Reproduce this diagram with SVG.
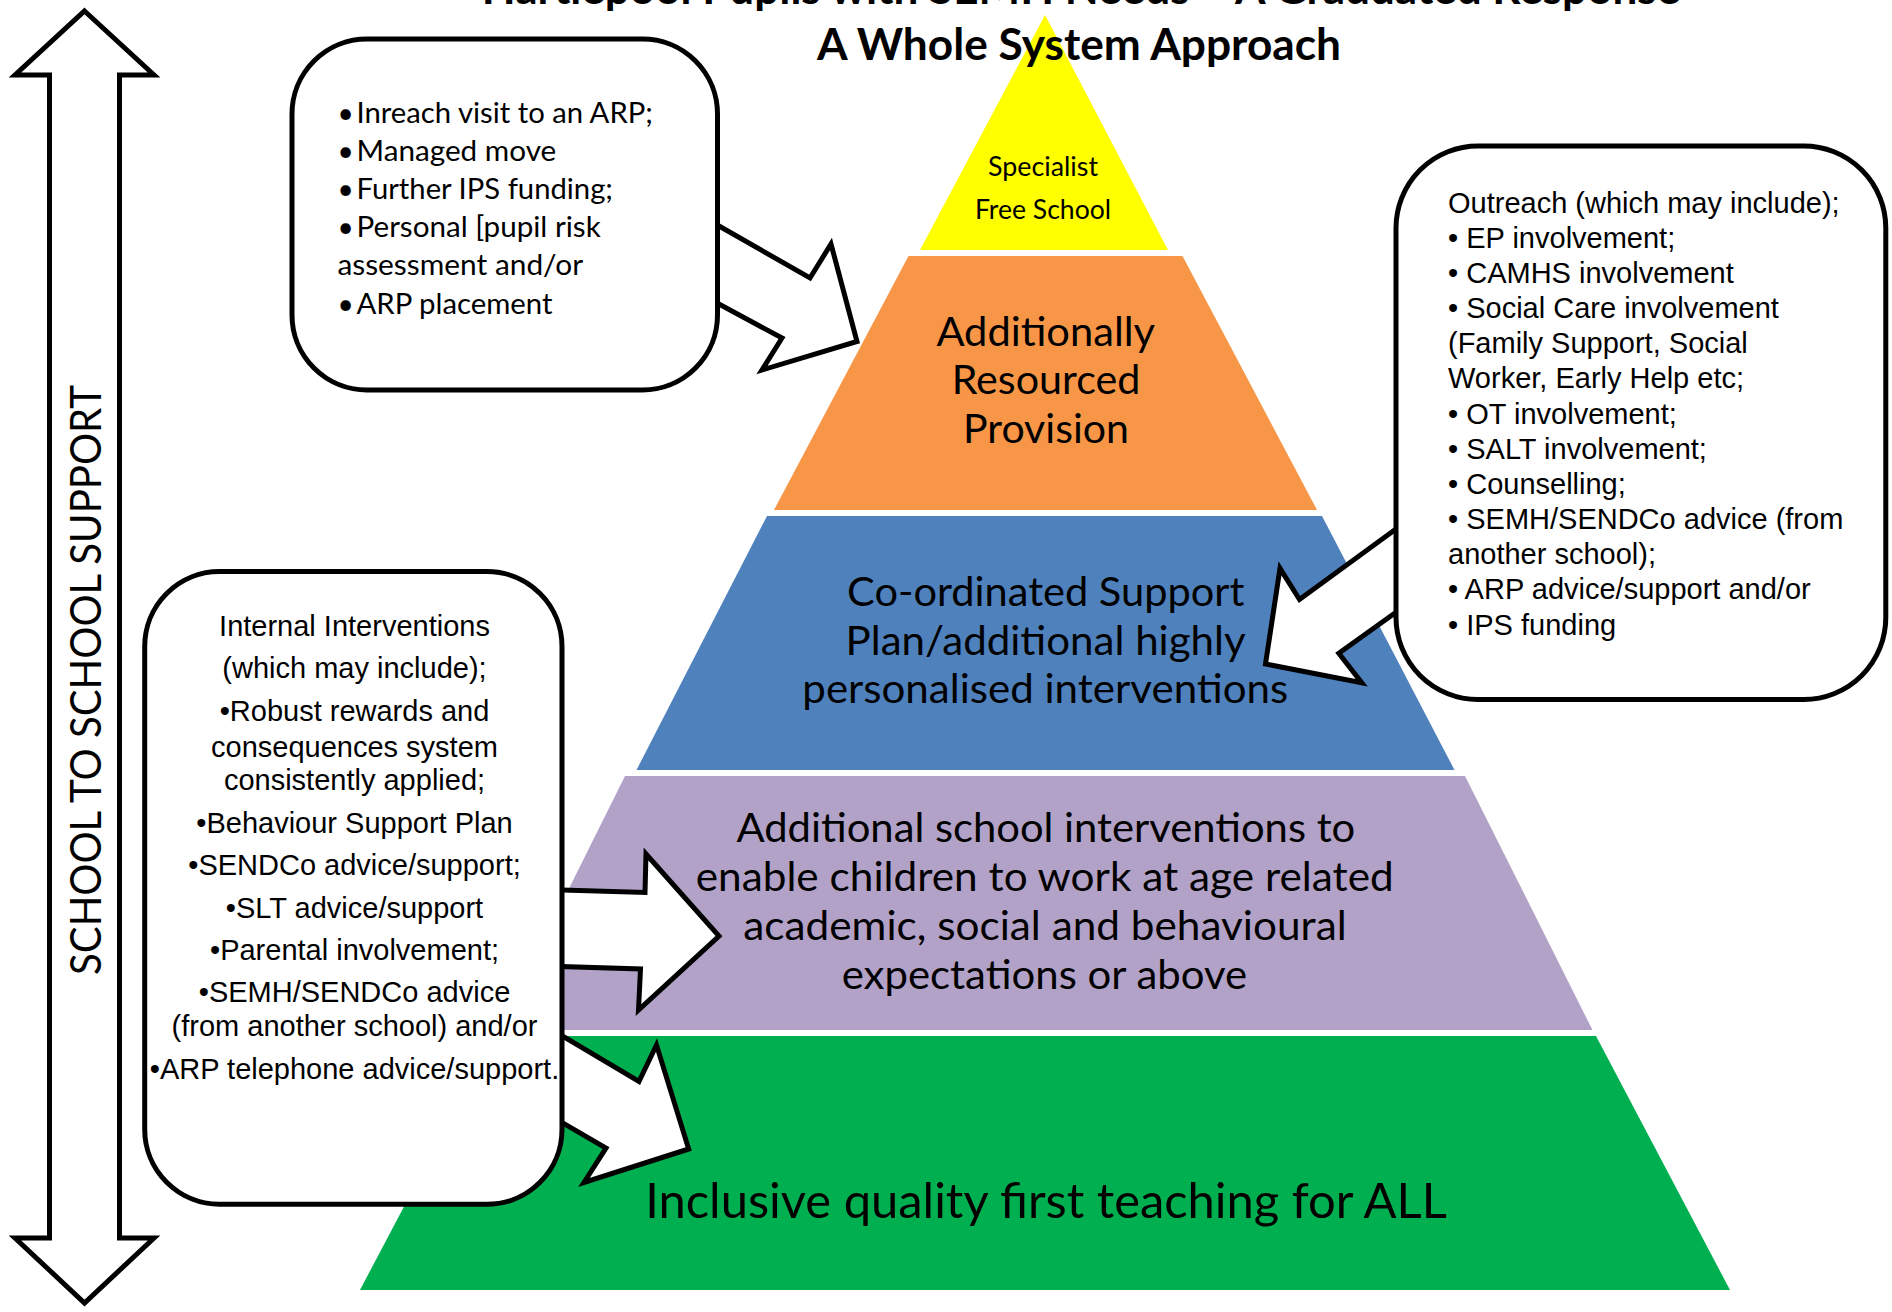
<svg xmlns="http://www.w3.org/2000/svg" width="1892" height="1312" viewBox="0 0 1892 1312">
  <style>
    .cal { font-family: Lato, "Open Sans", sans-serif; fill: #000; }
    .ari { font-family: "Liberation Sans", Arial, sans-serif; font-size: 29px; fill: #000; }
    .mid { text-anchor: middle; }
    .box { fill: #fff; stroke: #000; stroke-width: 5; }
    .arrow { fill: #fff; stroke: #000; stroke-width: 5; stroke-linejoin: miter; stroke-miterlimit: 10; }
    .t1 { font-size: 26px; }
    .t2 { font-size: 40px; }
    .t3 { font-size: 48px; }
    .note { font-size: 28px; }
  </style>

  <rect width="1892" height="1312" fill="#fff"/>

  <!-- Pyramid tiers, top to bottom -->
  <g id="tier-specialist">
    <polygon points="1045,15 1168,250 920,250" fill="#ffff00"/>
    <text class="cal t1 mid" x="1043" y="175.6" textLength="110" lengthAdjust="spacingAndGlyphs">Specialist</text>
    <text class="cal t1 mid" x="1043" y="218.7" textLength="136" lengthAdjust="spacingAndGlyphs">Free School</text>
  </g>
  <g id="tier-arp">
    <polygon points="908.5,256 1182.5,256 1317,510 774,510" fill="#f79646"/>
    <text class="cal t2 mid" x="1045.7" y="346" textLength="218.6" lengthAdjust="spacingAndGlyphs">Additionally</text>
    <text class="cal t2 mid" x="1046" y="394.3" textLength="188.7" lengthAdjust="spacingAndGlyphs">Resourced</text>
    <text class="cal t2 mid" x="1046" y="443.2" textLength="166" lengthAdjust="spacingAndGlyphs">Provision</text>
  </g>
  <g id="tier-coordinated">
    <polygon points="767,516 1322,516 1454.5,770 636.5,770" fill="#4f81bd"/>
    <text class="cal t2 mid" x="1045.7" y="606" textLength="397.3" lengthAdjust="spacingAndGlyphs">Co-ordinated Support</text>
    <text class="cal t2 mid" x="1045.6" y="655" textLength="400" lengthAdjust="spacingAndGlyphs">Plan/additional highly</text>
    <text class="cal t2 mid" x="1045.3" y="703.3" textLength="486" lengthAdjust="spacingAndGlyphs">personalised interventions</text>
  </g>
  <g id="tier-additional">
    <polygon points="625,776 1465,776 1592.5,1030 498.5,1030" fill="#b2a2c7"/>
    <text class="cal t2 mid" x="1045.8" y="841.7" textLength="618.8" lengthAdjust="spacingAndGlyphs">Additional school interventions to</text>
    <text class="cal t2 mid" x="1044.7" y="890.7" textLength="698" lengthAdjust="spacingAndGlyphs">enable children to work at age related</text>
    <text class="cal t2 mid" x="1045" y="940" textLength="603.3" lengthAdjust="spacingAndGlyphs">academic, social and behavioural</text>
    <text class="cal t2 mid" x="1044.4" y="989" textLength="405.5" lengthAdjust="spacingAndGlyphs">expectations or above</text>
  </g>
  <g id="tier-inclusive">
    <polygon points="494,1036 1596,1036 1730,1290 360,1290" fill="#00b050"/>
    <text class="cal t3 mid" x="1046" y="1217.7" textLength="801.6" lengthAdjust="spacingAndGlyphs">Inclusive quality first teaching for ALL</text>
  </g>

  <!-- Block arrows from the callout boxes into the tiers -->
  <g id="connectors">
    <polygon class="arrow" points="705,218 810,278 831,244 857,341.5 762,370 782,338 705,296.5"/>
    <polygon class="arrow" points="1410,518.8 1299.5,599.5 1280,568.3 1265.5,664 1361.7,682.7 1338.8,653.3 1410,602.3"/>
    <polygon class="arrow" points="545,889.5 645,892.5 646,854 719,936 638.5,1010 640.5,969 545,966"/>
    <polygon class="arrow" points="545,1025.6 639,1081.5 656.5,1045 688.7,1149 584,1182.5 606,1148 545,1112.6"/>
  </g>

  <!-- Callout: next steps towards ARP -->
  <g id="box-arp-options">
    <rect class="box" x="292" y="39" width="425.5" height="351" rx="75" ry="75"/>
    <text class="cal note" x="337.4" y="122.5">•</text>
    <text class="cal note" x="356.5" y="122.5" textLength="296.5" lengthAdjust="spacingAndGlyphs">Inreach visit to an ARP;</text>
    <text class="cal note" x="337.4" y="160.7">•</text>
    <text class="cal note" x="356.5" y="160.7" textLength="199.8" lengthAdjust="spacingAndGlyphs">Managed move</text>
    <text class="cal note" x="337.4" y="198.6">•</text>
    <text class="cal note" x="356.5" y="198.6" textLength="256.5" lengthAdjust="spacingAndGlyphs">Further IPS funding;</text>
    <text class="cal note" x="337.4" y="236.6">•</text>
    <text class="cal note" x="356.5" y="236.6" textLength="244.2" lengthAdjust="spacingAndGlyphs">Personal [pupil risk</text>
    <text class="cal note" x="337.4" y="275" textLength="245.7" lengthAdjust="spacingAndGlyphs">assessment and/or</text>
    <text class="cal note" x="337.4" y="313.5">•</text>
    <text class="cal note" x="356.5" y="313.5" textLength="196" lengthAdjust="spacingAndGlyphs">ARP placement</text>
  </g>

  <!-- Callout: outreach -->
  <g id="box-outreach">
    <rect class="box" x="1396" y="146" width="489.8" height="553.5" rx="82" ry="82"/>
    <text class="ari" x="1448" y="212.5">Outreach (which may include);</text>
    <text class="ari" x="1448" y="247.7">• EP involvement;</text>
    <text class="ari" x="1448" y="282.8">• CAMHS involvement</text>
    <text class="ari" x="1448" y="318">• Social Care involvement</text>
    <text class="ari" x="1448" y="353.2">(Family Support, Social</text>
    <text class="ari" x="1448" y="388.4">Worker, Early Help etc;</text>
    <text class="ari" x="1448" y="423.5">• OT involvement;</text>
    <text class="ari" x="1448" y="458.7">• SALT involvement;</text>
    <text class="ari" x="1448" y="493.9">• Counselling;</text>
    <text class="ari" x="1448" y="529">• SEMH/SENDCo advice (from</text>
    <text class="ari" x="1448" y="564.2">another school);</text>
    <text class="ari" x="1448" y="599.4">• ARP advice/support and/or</text>
    <text class="ari" x="1448" y="634.5">• IPS funding</text>
  </g>

  <!-- Callout: internal interventions -->
  <g id="box-internal">
    <rect class="box" x="144.7" y="571.6" width="417.3" height="632.7" rx="75" ry="75"/>
    <text class="ari mid" x="354.5" y="636">Internal Interventions</text>
    <text class="ari mid" x="354.5" y="678">(which may include);</text>
    <text class="ari mid" x="354.5" y="721">•Robust rewards and</text>
    <text class="ari mid" x="354.5" y="757">consequences system</text>
    <text class="ari mid" x="354.5" y="790">consistently applied;</text>
    <text class="ari mid" x="354.5" y="833">•Behaviour Support Plan</text>
    <text class="ari mid" x="354.5" y="875">•SENDCo advice/support;</text>
    <text class="ari mid" x="354.5" y="917.5">•SLT advice/support</text>
    <text class="ari mid" x="354.5" y="960">•Parental involvement;</text>
    <text class="ari mid" x="354.5" y="1001.5">•SEMH/SENDCo advice</text>
    <text class="ari mid" x="354.5" y="1036">(from another school) and/or</text>
    <text class="ari mid" x="354.5" y="1078.5">•ARP telephone advice/support.</text>
  </g>

  <!-- Vertical double-headed arrow -->
  <g id="school-to-school">
    <polygon class="arrow" points="84.5,11 154,75 119.5,75 119.5,1238 154,1238 84.5,1303 15,1238 49.5,1238 49.5,75 15,75"/>
    <text class="cal mid" font-size="43" transform="translate(101,680) rotate(-90)" textLength="590" lengthAdjust="spacingAndGlyphs">SCHOOL TO SCHOOL SUPPORT</text>
  </g>

  <!-- Heading -->
  <g id="heading">
    <text class="cal mid" font-size="43" font-weight="bold" x="1081" y="4" textLength="1198.4" lengthAdjust="spacingAndGlyphs">Hartlepool Pupils with SEMH Needs – A Graduated Response</text>
    <text class="cal mid" font-size="43" font-weight="bold" x="1079" y="60" textLength="524" lengthAdjust="spacingAndGlyphs">A Whole System Approach</text>
  </g>
</svg>
